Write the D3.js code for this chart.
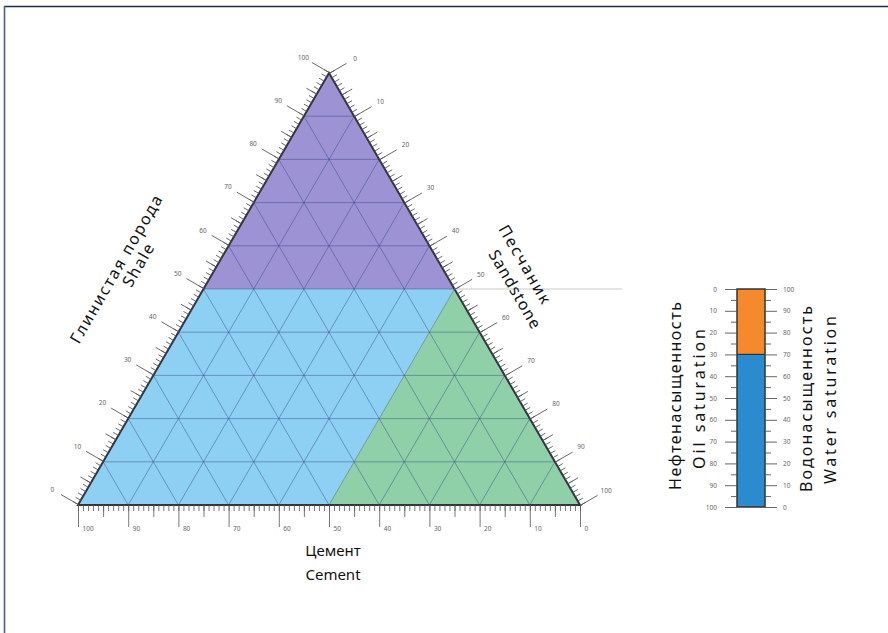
<!DOCTYPE html>
<html>
<head>
<meta charset="utf-8">
<script src="https://cdn.jsdelivr.net/npm/d3@7"></script>
<style>
  body { margin: 0; background: #fff; }
  svg { display: block; }
</style>
</head>
<body>
<script>
// Ternary diagram: shale (top vertex), sandstone (bottom-right), cement (bottom-left).
// Each field vertex is given as [shale, sandstone, cement] in percent.
const fieldNames = ["shale", "cement", "sandstone"];
const fieldColors = ["#9c92d4", "#8ed0f3", "#8fd0a8"];
const fieldVertices = [
  [[100, 0, 0], [50, 50, 0], [50, 0, 50]],
  [[50, 0, 50], [50, 50, 0], [0, 50, 50], [0, 0, 100]],
  [[50, 50, 0], [0, 100, 0], [0, 50, 50]]
];
const gridValues = [10, 20, 30, 40, 50, 60, 70, 80, 90];
const majorTicks = [0, 10, 20, 30, 40, 50, 60, 70, 80, 90, 100];
const midTicks = [5, 15, 25, 35, 45, 55, 65, 75, 85, 95];
const minorTicks = d3.range(0, 101);
const shaleBoundary = 50;

// Saturation column
const saturationTicks = [0, 10, 20, 30, 40, 50, 60, 70, 80, 90, 100];
const saturationMinor = [5, 15, 25, 35, 45, 55, 65, 75, 85, 95];
const oilSaturation = 30;
const waterSaturation = 70;

const W = 888, H = 633;
const svg = d3.select("body").append("svg").attr("width", W).attr("height", H);

// frame
svg.append("line").attr("x1", 4).attr("y1", 6.5).attr("x2", W).attr("y2", 6.5)
  .attr("stroke", "#1c2b4c").attr("stroke-width", 1.6);
svg.append("line").attr("x1", 4.5).attr("y1", 6).attr("x2", 4.5).attr("y2", H)
  .attr("stroke", "#50607e").attr("stroke-width", 1.6);

// geometry of the triangle
const triLeft = 78, triRight = 580, triBottom = 505, triTop = 73;
const xScale = d3.scaleLinear().domain([0, 100]).range([triLeft, triRight]);
const yScale = d3.scaleLinear().domain([0, 100]).range([triBottom, triTop]);
const pt = ([sh, sa, ce]) => [xScale(sa + sh / 2), yScale(sh)];

const g = svg.append("g");

// fields
g.selectAll("path.field")
  .data(fieldVertices)
  .join("path")
  .attr("class", "field")
  .attr("d", d => d3.line()(d.map(pt)) + "Z")
  .attr("fill", (d, i) => fieldColors[i]);

// grid: lines of constant shale, sandstone, cement
const gridLines = [];
gridValues.forEach(v => {
  gridLines.push([[v, 100 - v, 0], [v, 0, 100 - v]]);
  gridLines.push([[100 - v, v, 0], [0, v, 100 - v]]);
  gridLines.push([[100 - v, 0, v], [0, 100 - v, v]]);
});
g.selectAll("line.grid")
  .data(gridLines)
  .join("line")
  .attr("class", "grid")
  .attr("x1", d => pt(d[0])[0]).attr("y1", d => pt(d[0])[1])
  .attr("x2", d => pt(d[1])[0]).attr("y2", d => pt(d[1])[1])
  .attr("stroke", "#2c3f7a").attr("stroke-opacity", 0.42).attr("stroke-width", 1);

// field boundary extension towards the saturation column
const bEdge = pt([shaleBoundary, 100 - shaleBoundary, 0]);
svg.append("line")
  .attr("x1", bEdge[0]).attr("y1", bEdge[1]).attr("x2", 622).attr("y2", bEdge[1])
  .attr("stroke", "#c8c8c8").attr("stroke-width", 1);

// outline
g.append("path")
  .attr("d", d3.line()([[100, 0, 0], [0, 100, 0], [0, 0, 100]].map(pt)) + "Z")
  .attr("fill", "none").attr("stroke", "#34343c").attr("stroke-width", 2);

// axes along the sides, drawn with d3 axes in a rotated frame
function sideAxis(p0, p1, domain) {
  const dx = p1[0] - p0[0], dy = p1[1] - p0[1];
  const len = Math.hypot(dx, dy);
  const ang = Math.atan2(dy, dx) * 180 / Math.PI;
  const s = d3.scaleLinear().domain(domain).range([0, len]);
  const ag = svg.append("g").attr("transform", `translate(${p0[0]},${p0[1]}) rotate(${ang})`);
  const styl = sel => {
    sel.select(".domain").remove();
    sel.selectAll("line").attr("stroke", "#555").attr("stroke-width", 0.8);
  };
  ag.append("g").call(d3.axisTop(s).tickValues(minorTicks).tickSize(6).tickFormat("")).call(styl);
  ag.append("g").call(d3.axisTop(s).tickValues(midTicks).tickSize(12).tickFormat("")).call(styl);
  const maj = ag.append("g").call(d3.axisTop(s).tickValues(majorTicks).tickSize(20).tickFormat(d3.format("d"))).call(styl);
  maj.selectAll("text")
    .attr("y", 0).attr("dy", "0.35em")
    .attr("transform", `translate(0,-30) rotate(${-ang})`)
    .attr("font-size", 6.5).attr("fill", "#666").attr("font-family", "Noto Sans")
    .attr("text-anchor", "middle");
  return ag;
}

// Shale axis (left side): 0 at bottom-left, 100 at apex
sideAxis(pt([0, 0, 100]), pt([100, 0, 0]), [0, 100]);
// Sandstone axis (right side): 0 at apex, 100 at bottom-right
sideAxis(pt([100, 0, 0]), pt([0, 100, 0]), [0, 100]);

// Cement axis (bottom): 100 at bottom-left, 0 at bottom-right
const cementScale = d3.scaleLinear().domain([100, 0]).range([triLeft, triRight]);
const bg = svg.append("g").attr("transform", `translate(0,${triBottom})`);
const bstyl = sel => {
  sel.select(".domain").remove();
  sel.selectAll("line").attr("stroke", "#555").attr("stroke-width", 0.8);
};
bg.append("g").call(d3.axisBottom(cementScale).tickValues(minorTicks).tickSize(6).tickFormat("")).call(bstyl);
bg.append("g").call(d3.axisBottom(cementScale).tickValues(midTicks).tickSize(12).tickFormat("")).call(bstyl);
const bmaj = bg.append("g").call(d3.axisBottom(cementScale).tickValues(majorTicks).tickSize(22).tickFormat(d3.format("d"))).call(bstyl);
bmaj.selectAll("text")
  .attr("x", 4).attr("y", 24).attr("dy", "0.35em")
  .attr("text-anchor", "start")
  .attr("font-size", 6.5).attr("fill", "#666").attr("font-family", "Noto Sans");

// saturation column
const barX0 = 737, barX1 = 765, barTop = 289, barBottom = 507;
const oilScale = d3.scaleLinear().domain([0, 100]).range([barTop, barBottom]);
const waterScale = d3.scaleLinear().domain([100, 0]).range([barTop, barBottom]);

svg.append("rect")
  .attr("x", barX0).attr("width", barX1 - barX0)
  .attr("y", oilScale(0)).attr("height", oilScale(oilSaturation) - oilScale(0))
  .attr("fill", "#f58a2c");
svg.append("rect")
  .attr("x", barX0).attr("width", barX1 - barX0)
  .attr("y", waterScale(waterSaturation)).attr("height", waterScale(0) - waterScale(waterSaturation))
  .attr("fill", "#2a8ccf");
svg.append("line")
  .attr("x1", barX0).attr("x2", barX1)
  .attr("y1", oilScale(oilSaturation)).attr("y2", oilScale(oilSaturation))
  .attr("stroke", "#333").attr("stroke-width", 1.2);
svg.append("rect")
  .attr("x", barX0).attr("y", barTop).attr("width", barX1 - barX0).attr("height", barBottom - barTop)
  .attr("fill", "none").attr("stroke", "#333").attr("stroke-width", 1.5);

const cstyl = sel => {
  sel.select(".domain").remove();
  sel.selectAll("line").attr("stroke", "#555").attr("stroke-width", 0.9);
  sel.selectAll("text").attr("font-size", 6.5).attr("fill", "#666").attr("font-family", "Noto Sans");
};
svg.append("g").attr("transform", `translate(${barX0},0)`)
  .call(d3.axisLeft(oilScale).tickValues(saturationMinor).tickSize(6).tickFormat("")).call(cstyl);
svg.append("g").attr("transform", `translate(${barX0},0)`)
  .call(d3.axisLeft(oilScale).tickValues(saturationTicks).tickSize(12).tickPadding(8).tickFormat(d3.format("d"))).call(cstyl);
svg.append("g").attr("transform", `translate(${barX1},0)`)
  .call(d3.axisRight(waterScale).tickValues(saturationMinor).tickSize(6).tickFormat("")).call(cstyl);
svg.append("g").attr("transform", `translate(${barX1},0)`)
  .call(d3.axisRight(waterScale).tickValues(saturationTicks).tickSize(12).tickPadding(6).tickFormat(d3.format("d"))).call(cstyl);

// titles: one text per line, each with its own anchor point and run length
const font = "'Noto Sans', sans-serif";
const titles = [
  { t: "Глинистая порода", x: 121, y: 272, r: -60, size: 16, len: 168 },
  { t: "Shale", x: 143, y: 268, r: -60, size: 16, len: 47 },
  { t: "Песчаник", x: 520, y: 267, r: 60, size: 16, len: 88 },
  { t: "Sandstone", x: 510, y: 292, r: 60, size: 16, len: 88 },
  { t: "Цемент", x: 333, y: 556, r: 0, size: 15 },
  { t: "Cement", x: 333, y: 580, r: 0, size: 15 },
  { t: "Нефтенасыщенность", x: 681, y: 396, r: -90, size: 16, len: 188 },
  { t: "Oil saturation", x: 705, y: 399, r: -90, size: 16, len: 140 },
  { t: "Водонасыщенность", x: 812, y: 399, r: -90, size: 16, len: 186 },
  { t: "Water saturation", x: 836, y: 400, r: -90, size: 16, len: 168 }
];
svg.selectAll("text.title")
  .data(titles)
  .join("text")
  .attr("class", "title")
  .attr("transform", d => `translate(${d.x},${d.y}) rotate(${d.r})`)
  .attr("text-anchor", "middle")
  .attr("font-family", font).attr("font-size", d => d.size).attr("fill", "#111")
  .each(function (d) {
    if (d.len) d3.select(this).attr("textLength", d.len).attr("lengthAdjust", "spacing");
  })
  .text(d => d.t);
</script>
</body>
</html>
